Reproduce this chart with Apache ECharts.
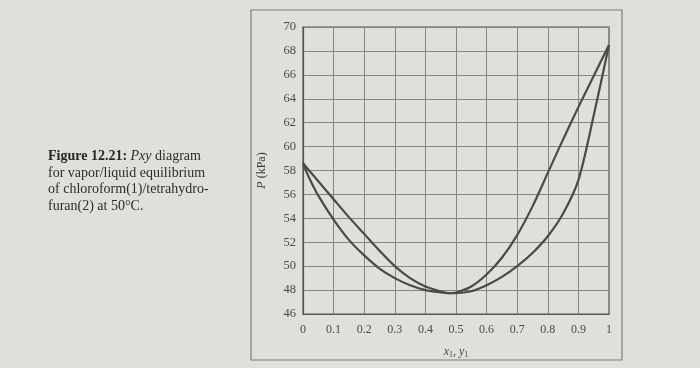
<!DOCTYPE html>
<html>
<head>
<meta charset="utf-8">
<script src="https://cdn.jsdelivr.net/npm/echarts/dist/echarts.min.js"></script>
<style>
html,body{margin:0;padding:0;background:#e1dfda;}
#c{width:700px;height:368px;}
</style>
</head>
<body>
<div id="c"></div>
<script>
// Tick labels
const xTickLabels = ['0','0.1','0.2','0.3','0.4','0.5','0.6','0.7','0.8','0.9','1'];
const yTickLabels = ['46','48','50','52','54','56','58','60','62','64','66','68','70'];

// Bubble curve: P vs x1 (liquid)
const bubbleX = [0, 0.05, 0.1, 0.15, 0.2, 0.25, 0.3, 0.35, 0.4, 0.45, 0.475, 0.5, 0.55, 0.6, 0.65, 0.7, 0.75, 0.8, 0.85, 0.9, 0.95, 1];
const bubbleP = [58.6, 57.1, 55.6, 54.1, 52.7, 51.3, 50.0, 49.0, 48.3, 47.9, 47.75, 47.8, 48.3, 49.3, 50.7, 52.6, 55.0, 57.8, 60.6, 63.3, 65.9, 68.5];

// Dew curve: P vs y1 (vapor)
const dewY = [0, 0.02, 0.05, 0.1, 0.15, 0.2, 0.25, 0.3, 0.35, 0.4, 0.45, 0.475, 0.5, 0.55, 0.6, 0.65, 0.7, 0.75, 0.8, 0.85, 0.9, 0.95, 1];
const dewP = [58.6, 57.4, 55.9, 53.9, 52.2, 50.9, 49.8, 49.0, 48.4, 48.0, 47.8, 47.75, 47.75, 47.9, 48.4, 49.1, 50.0, 51.1, 52.5, 54.4, 57.2, 62.6, 68.5];

const caption = [
  '{b|Figure 12.21:} {i|Pxy} diagram',
  'for vapor/liquid equilibrium',
  'of chloroform(1)/tetrahydro-',
  'furan(2) at 50°C.'
];

const serif = '"Liberation Serif", "DejaVu Serif", serif';
const curveColor = '#4a4a4a';

const chart = echarts.init(document.getElementById('c'), null, {renderer: 'canvas'});
chart.setOption({
  backgroundColor: '#e1dfda',
  animation: false,
  title: {
    left: 48, top: 148, padding: 0,
    text: caption.join('\n'),
    textStyle: {
      fontFamily: serif, fontSize: 14, fontWeight: 'normal', color: '#2c2c2c', lineHeight: 16.7,
      rich: {
        b: {fontFamily: serif, fontSize: 14, fontWeight: 'bold', color: '#262626', lineHeight: 16.7},
        i: {fontFamily: serif, fontSize: 14, fontStyle: 'italic', color: '#2c2c2c', lineHeight: 16.7}
      }
    }
  },
  graphic: [
    {type: 'rect', shape: {x: 251, y: 10, width: 371, height: 350}, style: {fill: 'none', stroke: '#7d7d7b', lineWidth: 1.2}, silent: true, z: -1}
  ],
  grid: {left: 303, top: 27, width: 306, height: 287, show: true, borderColor: '#555', borderWidth: 1.2, backgroundColor: 'transparent'},
  xAxis: {
    type: 'value', min: 0, max: 1, interval: 0.1,
    axisLine: {show: true, lineStyle: {color: '#555', width: 1.2}},
    axisTick: {show: false},
    splitLine: {show: true, lineStyle: {color: '#858585', width: 1}},
    axisLabel: {
      margin: 10, color: '#4a4a4a', fontFamily: serif, fontSize: 12,
      formatter: v => xTickLabels[Math.round(v * 10)]
    },
    name: '{i|x}{s|1}{n|, }{i|y}{s|1}',
    nameLocation: 'middle', nameGap: 31,
    nameTextStyle: {
      color: '#4a4a4a', fontFamily: serif, fontSize: 12,
      rich: {
        i: {fontFamily: serif, fontSize: 12, fontStyle: 'italic', color: '#4a4a4a', lineHeight: 14},
        n: {fontFamily: serif, fontSize: 12, color: '#4a4a4a', lineHeight: 14},
        s: {fontFamily: serif, fontSize: 8, color: '#4a4a4a', lineHeight: 8, verticalAlign: 'bottom'}
      }
    }
  },
  yAxis: {
    type: 'value', min: 46, max: 70, interval: 2,
    axisLine: {show: true, lineStyle: {color: '#555', width: 1.2}},
    axisTick: {show: false},
    splitLine: {show: true, lineStyle: {color: '#858585', width: 1}},
    axisLabel: {
      margin: 7, color: '#4a4a4a', fontFamily: serif, fontSize: 12.5,
      formatter: v => yTickLabels[Math.round((v - 46) / 2)]
    },
    name: '{i|P} (kPa)',
    nameLocation: 'middle', nameGap: 35, nameRotate: 90,
    nameTextStyle: {
      color: '#3a3a3a', fontFamily: serif, fontSize: 12,
      rich: {
        i: {fontFamily: serif, fontSize: 12, fontStyle: 'italic', color: '#3a3a3a'}
      }
    }
  },
  series: [
    {
      type: 'line', name: 'bubble', symbol: 'none', smooth: 0.3,
      lineStyle: {color: curveColor, width: 2.2},
      data: bubbleX.map((x, i) => [x, bubbleP[i]])
    },
    {
      type: 'line', name: 'dew', symbol: 'none', smooth: 0.3,
      lineStyle: {color: curveColor, width: 2.2},
      data: dewY.map((y, i) => [y, dewP[i]])
    }
  ]
});
</script>
</body>
</html>
